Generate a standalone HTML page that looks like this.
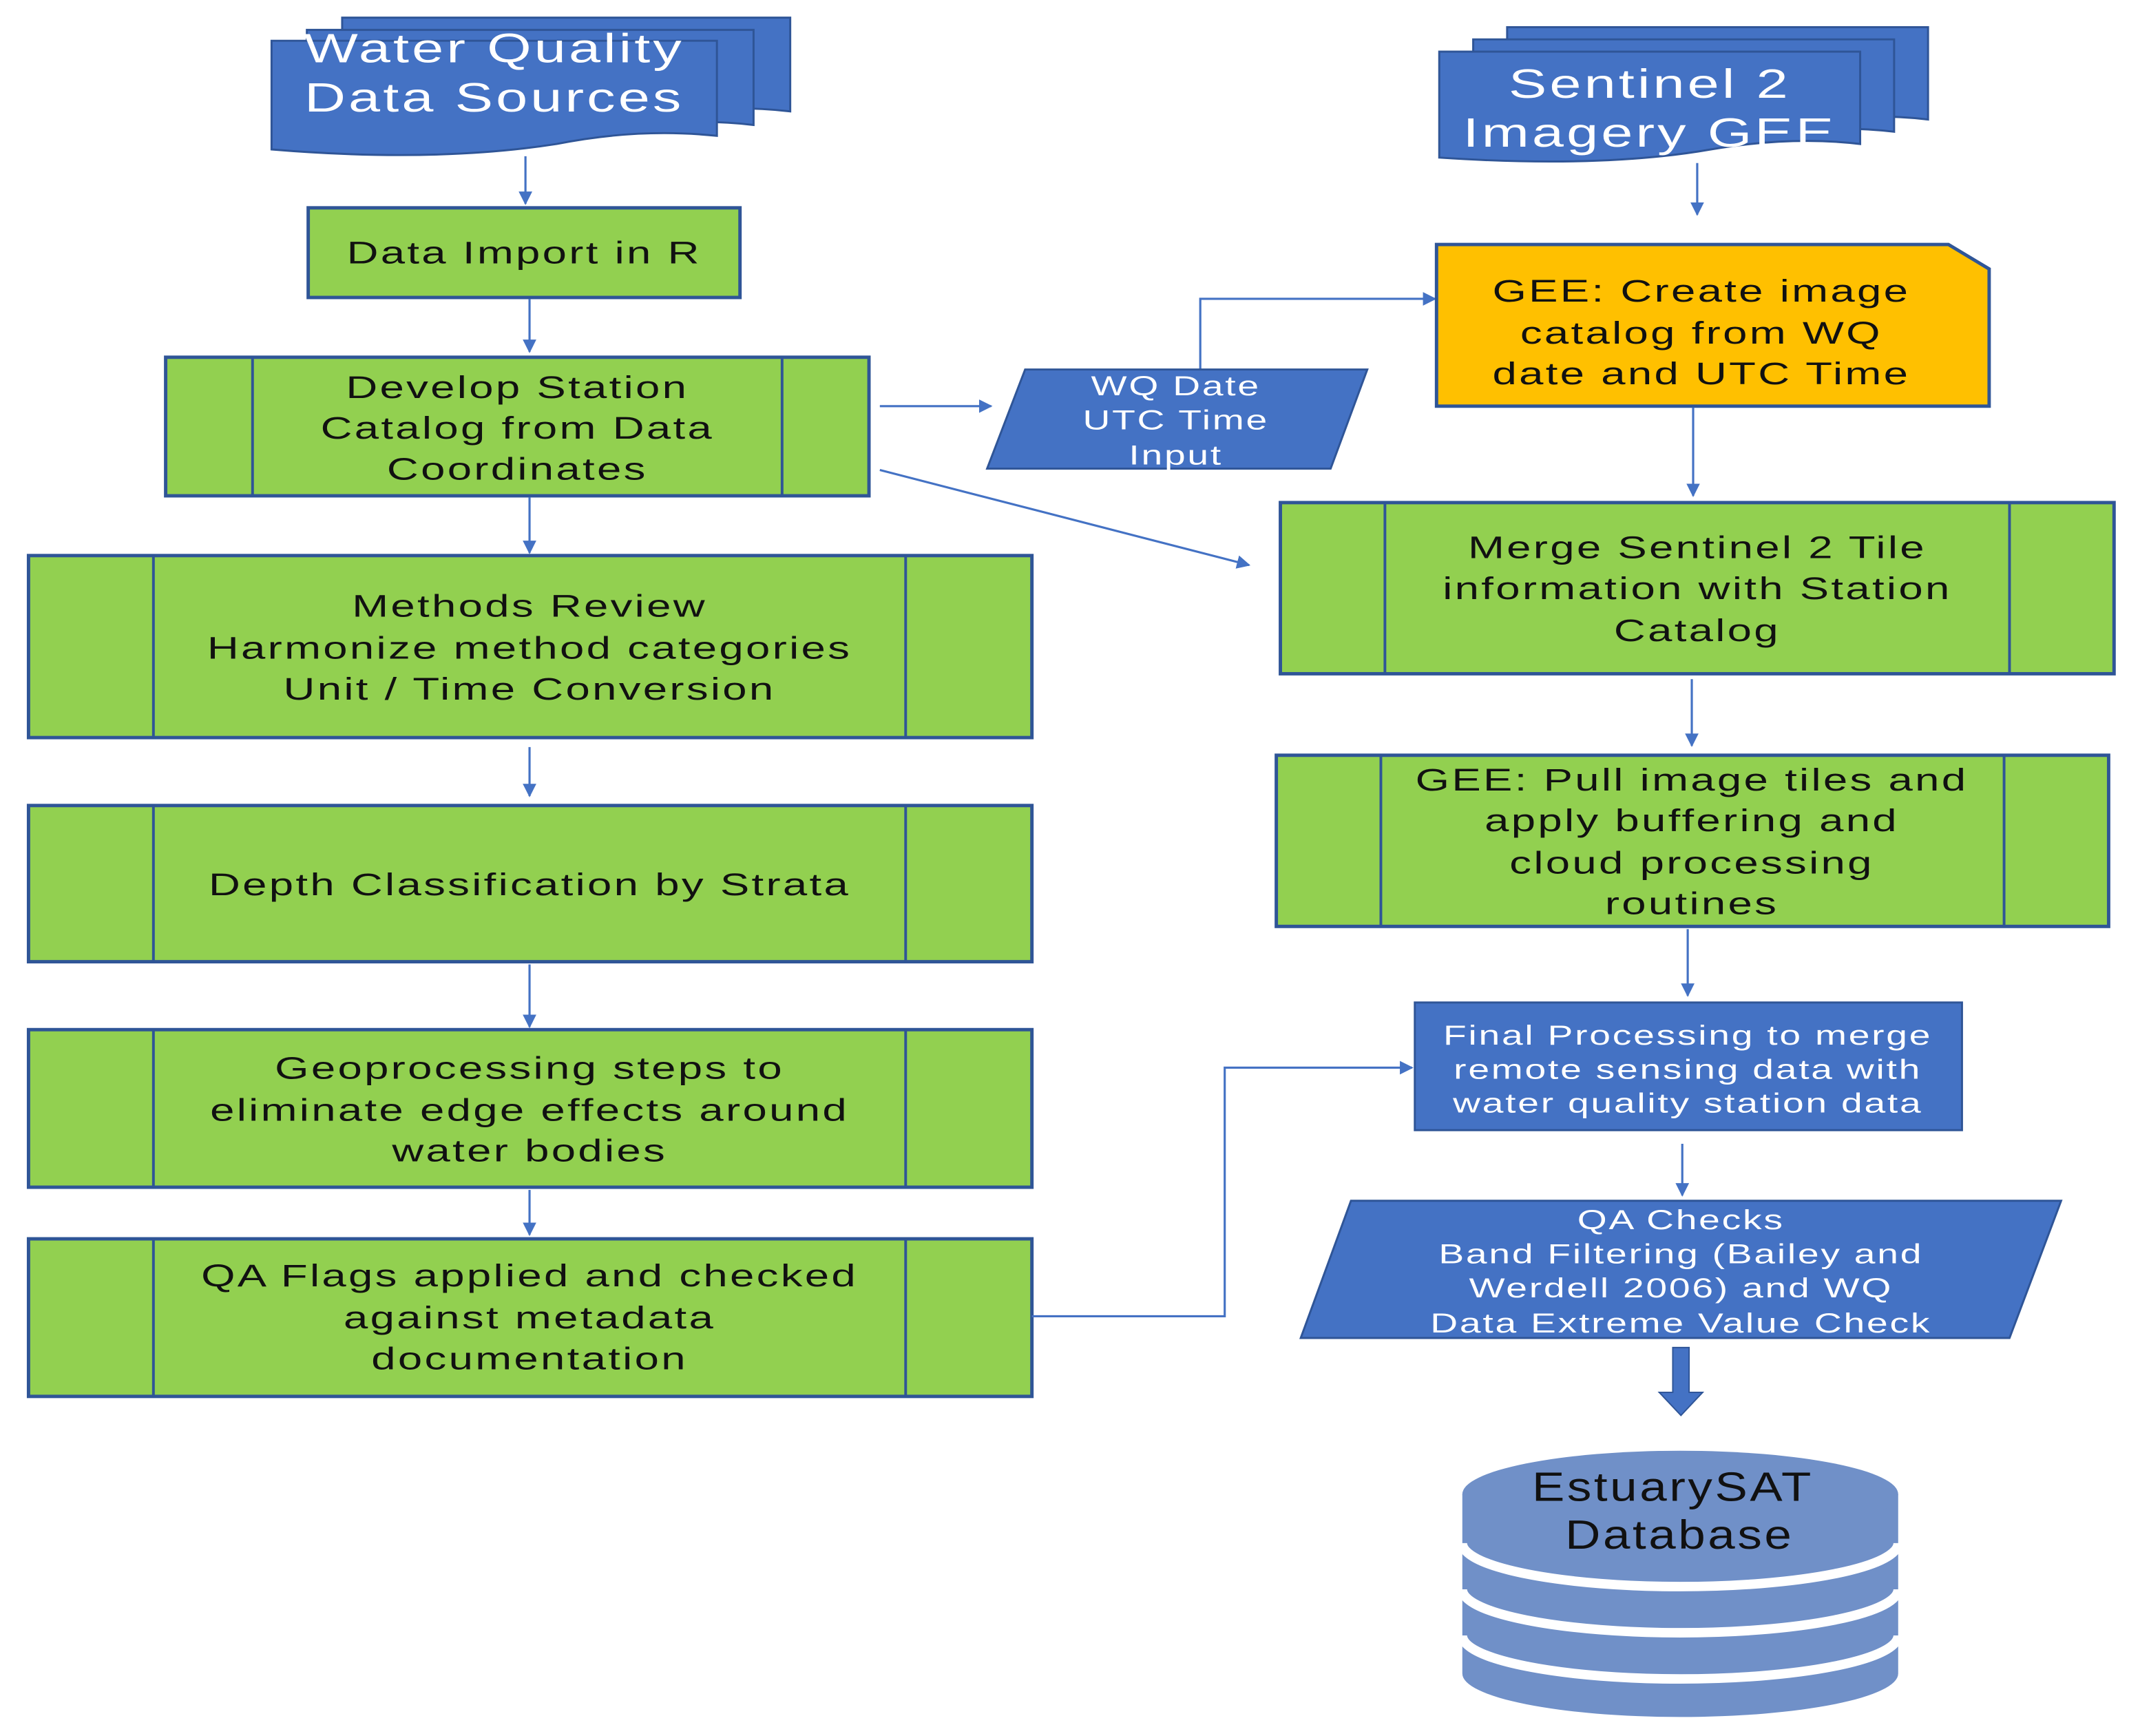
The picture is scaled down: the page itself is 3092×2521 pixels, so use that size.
<!DOCTYPE html>
<html><head><meta charset="utf-8"><style>
html,body{margin:0;padding:0;background:#fff;}
svg{display:block;}
text{font-family:"Liberation Sans","DejaVu Sans",sans-serif;text-anchor:middle;transform-box:fill-box;transform-origin:center;transform:scaleX(1.4);}
text.d{transform:scaleX(1.2);}
.g{fill:#92D050;stroke:#2F5597;stroke-width:2.5;}
.l{stroke:#2F5597;stroke-width:2;}
.t{font-size:23px;fill:#111;letter-spacing:1.2px;}
.w{font-size:20px;fill:#fff;letter-spacing:1px;}
.c{stroke:#4472C4;stroke-width:1.6;fill:none;}
</style></head><body>
<svg width="3092" height="2521" viewBox="0 0 1568 1278" preserveAspectRatio="none">
<defs><marker id="a" markerWidth="10" markerHeight="10" refX="9" refY="5" orient="auto" markerUnits="userSpaceOnUse"><path d="M0,0 L10,5 L0,10 z" fill="#4472C4"/></marker></defs>
<g fill="#4472C4" stroke="#2F5597" stroke-width="1.5">
<path d="M252,13 H582 V82 Q530,76 470,86 Q400,96 252,88 Z"/>
<path d="M226,22 H555 V92 Q505,86 445,96 Q380,106 226,98 Z"/>
<path d="M200,30 H528 V100 Q470,94 410,106 Q320,120 200,110 Z"/>
</g>
<text x="364" y="46" style="font-size:30px;fill:#fff;letter-spacing:1.5px">Water Quality</text>
<text x="364" y="82" style="font-size:30px;fill:#fff;letter-spacing:1.5px">Data Sources</text>
<g fill="#4472C4" stroke="#2F5597" stroke-width="1.5">
<path d="M1110,20 H1420 V88 Q1370,82 1310,92 Q1240,102 1110,96 Z"/>
<path d="M1085,29 H1395 V97 Q1345,91 1285,101 Q1215,111 1085,105 Z"/>
<path d="M1060,38 H1370 V106 Q1320,100 1260,110 Q1180,124 1060,116 Z"/>
</g>
<text x="1215" y="72" style="font-size:30px;fill:#fff;letter-spacing:1.5px">Sentinel 2</text>
<text x="1215" y="108" style="font-size:30px;fill:#fff;letter-spacing:1.5px">Imagery GEE</text>
<rect class="g" x="227" y="153" width="318" height="66"/>
<text class="t" x="386" y="194">Data Import in R</text>
<rect class="g" x="122" y="263" width="518" height="102"/>
<line class="l" x1="186" y1="263" x2="186" y2="365"/><line class="l" x1="576" y1="263" x2="576" y2="365"/>
<text class="t" x="381" y="293">Develop Station</text><text class="t" x="381" y="323">Catalog from Data</text><text class="t" x="381" y="353">Coordinates</text>
<rect class="g" x="21" y="409" width="739" height="134"/>
<line class="l" x1="113" y1="409" x2="113" y2="543"/><line class="l" x1="667" y1="409" x2="667" y2="543"/>
<text class="t" x="390" y="454">Methods Review</text><text class="t" x="390" y="485">Harmonize method categories</text><text class="t" x="390" y="515">Unit / Time Conversion</text>
<rect class="g" x="21" y="593" width="739" height="115"/>
<line class="l" x1="113" y1="593" x2="113" y2="708"/><line class="l" x1="667" y1="593" x2="667" y2="708"/>
<text class="t" x="390" y="659">Depth Classification by Strata</text>
<rect class="g" x="21" y="758" width="739" height="116"/>
<line class="l" x1="113" y1="758" x2="113" y2="874"/><line class="l" x1="667" y1="758" x2="667" y2="874"/>
<text class="t" x="390" y="794">Geoprocessing steps to</text><text class="t" x="390" y="825">eliminate edge effects around</text><text class="t" x="390" y="855">water bodies</text>
<rect class="g" x="21" y="912" width="739" height="116"/>
<line class="l" x1="113" y1="912" x2="113" y2="1028"/><line class="l" x1="667" y1="912" x2="667" y2="1028"/>
<text class="t" x="390" y="947">QA Flags applied and checked</text><text class="t" x="390" y="978">against metadata</text><text class="t" x="390" y="1008">documentation</text>
<line class="c" x1="387" y1="115" x2="387" y2="150" marker-end="url(#a)"/>
<line class="c" x1="390" y1="220" x2="390" y2="259" marker-end="url(#a)"/>
<line class="c" x1="390" y1="366" x2="390" y2="407" marker-end="url(#a)"/>
<line class="c" x1="390" y1="550" x2="390" y2="586" marker-end="url(#a)"/>
<line class="c" x1="390" y1="710" x2="390" y2="756" marker-end="url(#a)"/>
<line class="c" x1="390" y1="876" x2="390" y2="909" marker-end="url(#a)"/>
<polyline class="c" points="760,969 902,969 902,786 1040,786" marker-end="url(#a)"/>
<line class="c" x1="648" y1="299" x2="730" y2="299" marker-end="url(#a)"/>
<polyline class="c" points="884,272 884,220 1057,220" marker-end="url(#a)"/>
<line class="c" x1="648" y1="346" x2="920" y2="416" marker-end="url(#a)"/>
<polygon points="755,272 1007,272 980,345 727,345" fill="#4472C4" stroke="#2F5597" stroke-width="1.5"/>
<text class="w" x="866" y="291">WQ Date</text><text class="w" x="866" y="316">UTC Time</text><text class="w" x="866" y="342">Input</text>
<path d="M1058,180 H1435 L1465,198 V299 H1058 Z" fill="#FFC000" stroke="#2F5597" stroke-width="2.5"/>
<text class="t" x="1253" y="222">GEE: Create image</text><text class="t" x="1253" y="253">catalog from WQ</text><text class="t" x="1253" y="283">date and UTC Time</text>
<rect class="g" x="943" y="370" width="614" height="126"/>
<line class="l" x1="1020" y1="370" x2="1020" y2="496"/><line class="l" x1="1480" y1="370" x2="1480" y2="496"/>
<text class="t" x="1250" y="411">Merge Sentinel 2 Tile</text><text class="t" x="1250" y="441">information with Station</text><text class="t" x="1250" y="472">Catalog</text>
<rect class="g" x="940" y="556" width="613" height="126"/>
<line class="l" x1="1017" y1="556" x2="1017" y2="682"/><line class="l" x1="1476" y1="556" x2="1476" y2="682"/>
<text class="t" x="1246" y="582">GEE: Pull image tiles and</text><text class="t" x="1246" y="612">apply buffering and</text><text class="t" x="1246" y="643">cloud processing</text><text class="t" x="1246" y="673">routines</text>
<rect x="1042" y="738" width="403" height="94" fill="#4472C4" stroke="#2F5597" stroke-width="1.5"/>
<text class="w" x="1243" y="769">Final Processing to merge</text><text class="w" x="1243" y="794">remote sensing data with</text><text class="w" x="1243" y="819">water quality station data</text>
<polygon points="995,884 1518,884 1480,985 958,985" fill="#4472C4" stroke="#2F5597" stroke-width="1.5"/>
<text class="w" x="1238" y="905">QA  Checks</text><text class="w" x="1238" y="930">Band Filtering (Bailey and</text><text class="w" x="1238" y="955">Werdell 2006) and WQ</text><text class="w" x="1238" y="981">Data Extreme Value Check</text>
<line class="c" x1="1250" y1="120" x2="1250" y2="158" marker-end="url(#a)"/>
<line class="c" x1="1247" y1="300" x2="1247" y2="365" marker-end="url(#a)"/>
<line class="c" x1="1246" y1="500" x2="1246" y2="549" marker-end="url(#a)"/>
<line class="c" x1="1243" y1="684" x2="1243" y2="733" marker-end="url(#a)"/>
<line class="c" x1="1239" y1="842" x2="1239" y2="880" marker-end="url(#a)"/>
<path d="M1232,992 H1244 V1025 H1254 L1238,1042 L1222,1025 H1232 Z" fill="#4472C4" stroke="#2F5597" stroke-width="1"/>
<g fill="#7090C8">
<path d="M1077,1100 V1232 A160.5,32 0 0 0 1398,1232 V1100 Z"/>
<ellipse cx="1237.5" cy="1100" rx="160.5" ry="32"/>
</g>
<path d="M1077,1136 A160.5,32 0 0 0 1398,1136" fill="none" stroke="#fff" stroke-width="7"/>
<path d="M1077,1170 A160.5,32 0 0 0 1398,1170" fill="none" stroke="#fff" stroke-width="7"/>
<path d="M1077,1204 A160.5,32 0 0 0 1398,1204" fill="none" stroke="#fff" stroke-width="7"/>
<text class="d" x="1232" y="1105" style="font-size:30px;fill:#111;letter-spacing:1.5px">EstuarySAT</text>
<text class="d" x="1237" y="1140" style="font-size:30px;fill:#111;letter-spacing:1.5px">Database</text>
</svg>
</body></html>
